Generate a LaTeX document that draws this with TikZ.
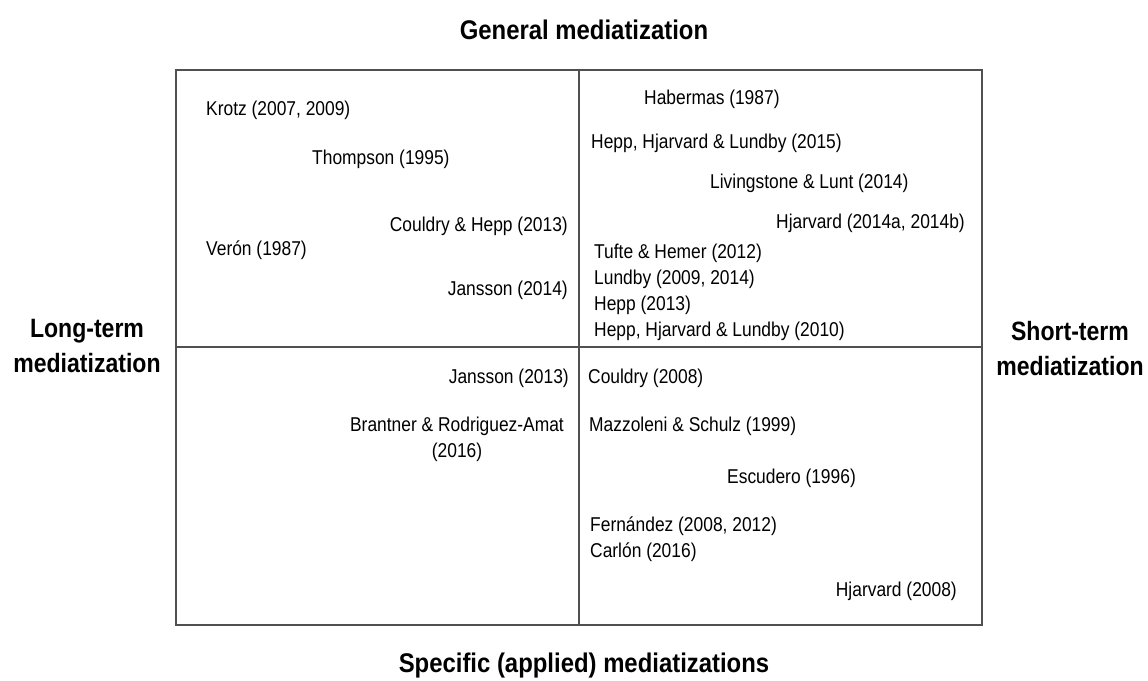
\documentclass[tikz,border=0pt]{standalone}
\usepackage{fontspec}
\setmainfont{Liberation Sans}[FakeStretch=0.87]
\newfontfamily\titlefont{Liberation Sans}[FakeStretch=0.885]
\definecolor{boxline}{HTML}{505050}
\tikzset{
  ref/.style={inner sep=0pt, font=\fontsize{20}{26}\selectfont, text=black},
  axis/.style={inner sep=0pt, font=\fontsize{26.5}{35}\selectfont\bfseries, align=center, text=black},
  headline/.style={inner sep=0pt, font=\titlefont\fontsize{27}{35}\selectfont\bfseries, text=black},
  frame/.style={draw=boxline, line width=1.4pt}
}
\begin{document}
\begin{tikzpicture}[x=1pt,y=-1pt]
\useasboundingbox (0,0) rectangle (1148,680);
% quadrant frame
\coordinate (tl) at (176,70);
\coordinate (br) at (982,625);
\coordinate (mt) at (579,70);
\coordinate (mb) at (579,625);
\coordinate (ml) at (176,347);
\coordinate (mr) at (982,347);
\draw[frame] (tl) rectangle (br);
\draw[frame] (mt) -- (mb);
\draw[frame] (ml) -- (mr);
% axis labels
\node[headline] (top) at (584,30) {General mediatization};
\node[headline] (bottom) at (584,666) {Specific (applied) mediatizations};
\node[axis] (left) at (87,346) {Long-term\\mediatization};
\node[axis] (right) at (1070,349) {Short-term\\mediatization};
% top-left quadrant
\node[ref, anchor=west] (krotz) at (206,110) {Krotz (2007, 2009)};
\node[ref, anchor=west] (thompson) at (312,159) {Thompson (1995)};
\node[ref, anchor=east] (couldryhepp) at (568,226) {Couldry \& Hepp (2013)};
\node[ref, anchor=west] (veron) at (206,250) {Verón (1987)};
\node[ref, anchor=east] (jansson14) at (568,290) {Jansson (2014)};
% top-right quadrant
\node[ref, anchor=west] (habermas) at (644,99) {Habermas (1987)};
\node[ref, anchor=west] (hhl15) at (591,143) {Hepp, Hjarvard \& Lundby (2015)};
\node[ref, anchor=west] (livingstone) at (710,183) {Livingstone \& Lunt (2014)};
\node[ref, anchor=east] (hjarvard14) at (965,223) {Hjarvard (2014a, 2014b)};
\node[ref, anchor=west] (tufte) at (594,253) {Tufte \& Hemer (2012)};
\node[ref, anchor=west] (lundby) at (594,279) {Lundby (2009, 2014)};
\node[ref, anchor=west] (hepp13) at (594,305) {Hepp (2013)};
\node[ref, anchor=west] (hhl10) at (594,331) {Hepp, Hjarvard \& Lundby (2010)};
% bottom-left quadrant
\node[ref, anchor=east] (jansson13) at (569,378) {Jansson (2013)};
\node[ref, align=center] (brantner) at (457,439) {Brantner \& Rodriguez-Amat\\(2016)};
% bottom-right quadrant
\node[ref, anchor=west] (couldry08) at (588,378) {Couldry (2008)};
\node[ref, anchor=west] (mazzoleni) at (589,426) {Mazzoleni \& Schulz (1999)};
\node[ref, anchor=west] (escudero) at (727,478) {Escudero (1996)};
\node[ref, anchor=west] (fernandez) at (590,526) {Fernández (2008, 2012)};
\node[ref, anchor=west] (carlon) at (590,552) {Carlón (2016)};
\node[ref, anchor=east] (hjarvard08) at (957,591) {Hjarvard (2008)};
\end{tikzpicture}
\end{document}
